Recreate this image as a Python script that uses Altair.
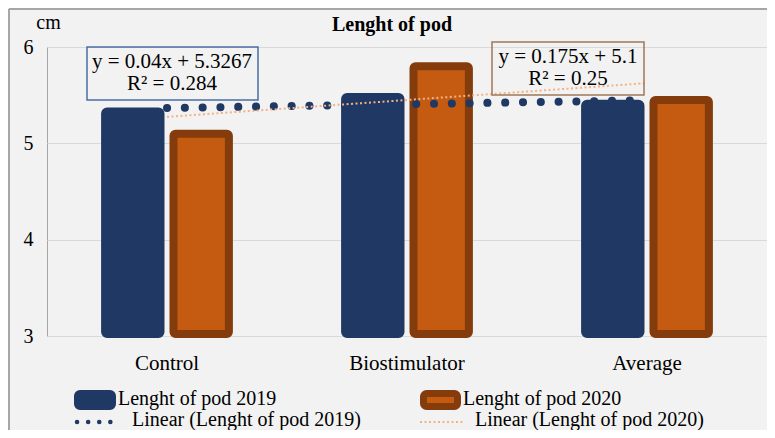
import altair as alt
import pandas as pd

categories = ["Control", "Biostimulator", "Average"]
pod_2019 = [5.33, 5.48, 5.41]
pod_2020 = [5.10, 5.80, 5.45]
series_names = ["Lenght of pod 2019", "Lenght of pod 2020"]
trend_names = ["Linear (Lenght of pod 2019)", "Linear (Lenght of pod 2020)"]
eq_2019 = ["y = 0.04x + 5.3267", "R² = 0.284"]
eq_2020 = ["y = 0.175x + 5.1", "R² = 0.25"]
y_ticks = [3, 4, 5, 6]
title_text = "Lenght of pod"
unit_text = "cm"

rows = []
for i, c in enumerate(categories):
    rows.append({"category": c, "idx": i + 1, "series": series_names[0], "value": pod_2019[i]})
    rows.append({"category": c, "idx": i + 1, "series": series_names[1], "value": pod_2020[i]})
df = pd.DataFrame(rows)

W, H = 720, 289
NAVY = "#203864"
ORANGE = "#C55A11"
BROWN = "#843C0C"
LIGHT = "#F4B183"
FONT = "Liberation Serif"

base = alt.Chart(df)

xband = alt.X(
    "category:N", sort=categories,
    scale=alt.Scale(paddingInner=0.43, paddingOuter=0.215),
    axis=alt.Axis(title=None, labelAngle=0, labelFont=FONT, labelFontSize=21,
                  labelColor="black", labelPadding=16, ticks=False, domain=False, grid=False),
)
yq = alt.Y(
    "value:Q",
    scale=alt.Scale(domain=[3, 6], nice=False, zero=False),
    axis=alt.Axis(values=y_ticks, format="d", title=unit_text, titleAngle=0, titleX=1, titleY=-19,
                  titleAlign="center", titleBaseline="alphabetic", titleFont=FONT,
                  titleFontSize=20, titleFontWeight="normal", titleColor="black",
                  labelFont=FONT, labelFontSize=20, labelColor="black", labelPadding=14,
                  ticks=False, tickSize=0, domain=False, gridColor="#D9D9D9", gridWidth=1),
)

bars = base.mark_bar(strokeWidth=8, cornerRadius=2, strokeJoin="round").encode(
    x=xband,
    xOffset=alt.XOffset("series:N", sort=series_names,
                        scale=alt.Scale(paddingInner=0.19, paddingOuter=0.095)),
    y=yq,
    y2=alt.datum(3.02),
    color=alt.Color("series:N", scale=alt.Scale(domain=series_names, range=[NAVY, ORANGE]), legend=None),
    stroke=alt.Stroke("series:N", scale=alt.Scale(domain=series_names, range=[NAVY, BROWN]), legend=None),
)

xtrend = alt.X("idx:Q", scale=alt.Scale(domain=[0.5, 3.5], nice=False, zero=False), axis=None)

trend19 = base.transform_filter(alt.datum.series == series_names[0]).transform_regression(
    "idx", "value", method="linear"
).mark_line(color=NAVY, strokeWidth=8, strokeDash=[0.1, 17.7], strokeCap="round").encode(
    x=xtrend, y=alt.Y("value:Q")
)
trend20 = base.transform_filter(alt.datum.series == series_names[1]).transform_regression(
    "idx", "value", method="linear"
).mark_line(color=LIGHT, strokeWidth=2, strokeDash=[2, 2.5]).encode(
    x=xtrend, y=alt.Y("value:Q")
)

one = pd.DataFrame({"k": [0]})

def box(x1, x2, y1, y2, color):
    return alt.Chart(one).mark_rect(fillOpacity=0, stroke=color, strokeWidth=1.5).encode(
        x=alt.value(x1), x2=alt.value(x2), y=alt.value(y1), y2=alt.value(y2))

def label(text, x, y, align="center", size=21, weight="normal"):
    return alt.Chart(pd.DataFrame({"t": [text]})).mark_text(
        font=FONT, fontSize=size, color="black", align=align, baseline="alphabetic",
        fontWeight=weight,
    ).encode(text="t:N", x=alt.value(x), y=alt.value(y))

title_layer = label(title_text, 345, -16, "center", 20, "bold")

eq_layers = [
    box(40, 211, 0, 53, "#4A6FA5"),
    label(eq_2019[0], 125, 21), label(eq_2019[1], 125, 43),
    box(445, 597, -5, 48, "#A0785A"),
    label(eq_2020[0], 521, 16), label(eq_2020[1], 521, 38),
]

leg_layers = [
    alt.Chart(one).mark_rect(fill=NAVY, stroke=NAVY, strokeWidth=6, cornerRadius=3).encode(
        x=alt.value(30), x2=alt.value(66), y=alt.value(346), y2=alt.value(360)),
    alt.Chart(one).mark_rect(fill=ORANGE, stroke=BROWN, strokeWidth=7, cornerRadius=3).encode(
        x=alt.value(376.5), x2=alt.value(410.5), y=alt.value(346.5), y2=alt.value(359.5)),
    alt.Chart(one).mark_rule(color=NAVY, strokeWidth=4.5, strokeDash=[0.1, 11], strokeCap="round").encode(
        x=alt.value(30), x2=alt.value(64), y=alt.value(375)),
    alt.Chart(one).mark_rule(color=LIGHT, strokeWidth=2, strokeDash=[2, 2.5]).encode(
        x=alt.value(373), x2=alt.value(416), y=alt.value(375)),
    label(series_names[0], 71, 358, "left", 20),
    label(trend_names[0], 85, 379, "left", 20),
    label(series_names[1], 416, 358, "left", 20),
    label(trend_names[1], 428, 379, "left", 20),
]

frame_layers = [
    alt.Chart(one).mark_rule(color="#A6A6A6", strokeWidth=2).encode(
        x=alt.value(-38), y=alt.value(-38), y2=alt.value(383)),
    alt.Chart(one).mark_rule(color="#A6A6A6", strokeWidth=2).encode(
        x=alt.value(-38), x2=alt.value(720), y=alt.value(-38)),
]

chart = alt.layer(
    bars, trend19, trend20, title_layer, *eq_layers, *leg_layers, *frame_layers
).resolve_scale(x="independent").properties(
    width=W, height=H,
    autosize=alt.AutoSizeParams(type="none"),
    padding={"left": 39, "top": 39, "right": 0, "bottom": 94},
    background="#F2F2F2",
).configure_view(stroke="#A6A6A6", strokeWidth=1)

chart.save("out.html", embed_options={"renderer": "svg", "actions": False})
